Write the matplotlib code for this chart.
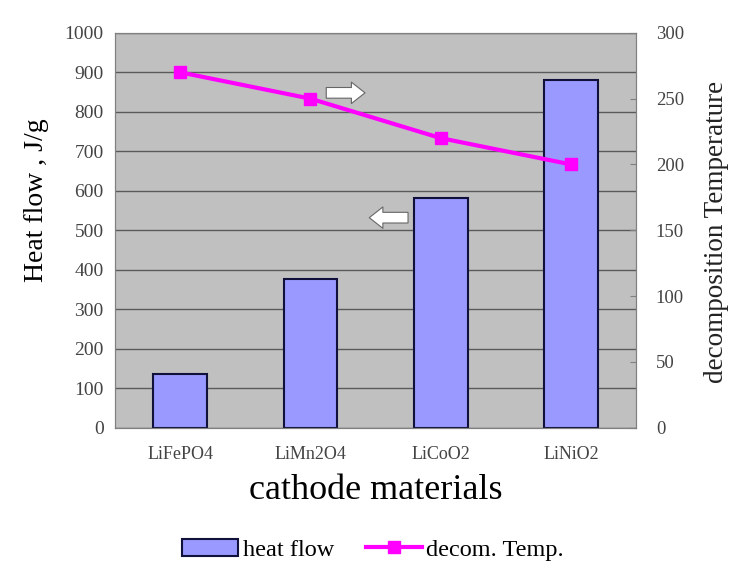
import matplotlib.pyplot as plt
import numpy as np

plt.rcParams['font.family'] = ['Liberation Serif', 'DejaVu Serif']

materials = ["LiFePO4", "LiMn2O4", "LiCoO2", "LiNiO2"]
heat_flow = [137, 377, 582, 881]
decom_temp = [270, 250, 220, 200]

fig = plt.figure(figsize=(7.46, 5.86), dpi=100)
ax = fig.add_axes([0.154, 0.270, 0.699, 0.674])
ax.set_facecolor("#c0c0c0")
x = np.arange(len(materials))

ax.set_axisbelow(True)
ax.grid(axis="y", color="#5a5a5a", linewidth=1)
bars = ax.bar(x, heat_flow, width=0.41, color="#9999ff", edgecolor="#10103a",
              linewidth=1.5, label="heat flow")
ax.set_xlim(-0.5, 3.5)
ax.set_ylim(0, 1000)
ax.set_yticks(range(0, 1001, 100))
ax.set_xticks(x)
ax.set_xticklabels(materials, fontsize=13, color="#444444")
ax.tick_params(axis="y", labelsize=14, length=0, pad=8, labelcolor="#444444")
ax.tick_params(axis="x", length=0, pad=13)
ax.set_ylabel("Heat flow , J/g", fontsize=20)
ax.yaxis.set_label_coords(-0.126, 0.575)
ax.set_xlabel("cathode materials", fontsize=26, labelpad=8)
for s in ax.spines.values():
    s.set_color("#808080")

ax2 = ax.twinx()
line, = ax2.plot(x, decom_temp, color="#ff00ff", linewidth=3, marker="s",
                 markersize=9, label="decom. Temp.")
ax2.set_ylim(0, 300)
ax2.set_yticks(range(0, 301, 50))
ax2.tick_params(axis="y", labelsize=13.5, direction="in", length=4,
                color="#808080", pad=14, labelcolor="#444444")
ax2.set_ylabel("decomposition Temperature", fontsize=19.5, color="#222222")
ax2.yaxis.set_label_coords(1.129, 0.495)
for s in ax2.spines.values():
    s.set_color("#808080")

arrow_style = dict(arrowstyle="simple,head_length=0.7,head_width=1.1,tail_width=0.55",
                   mutation_scale=14, facecolor="white", edgecolor="#666666",
                   linewidth=0.8)
ax.annotate("", xy=(1.44, 848), xytext=(1.10, 848), arrowprops=arrow_style)
ax.annotate("", xy=(1.43, 532), xytext=(1.77, 532), arrowprops=arrow_style)

fig.legend(handles=[bars, line], labels=["heat flow", "decom. Temp."],
           loc="center", bbox_to_anchor=(0.5, 0.062), ncol=2, frameon=False,
           fontsize=17.5, handlelength=2.3, columnspacing=1.3, handletextpad=0.2)

fig.savefig("out.png", dpi=100)
